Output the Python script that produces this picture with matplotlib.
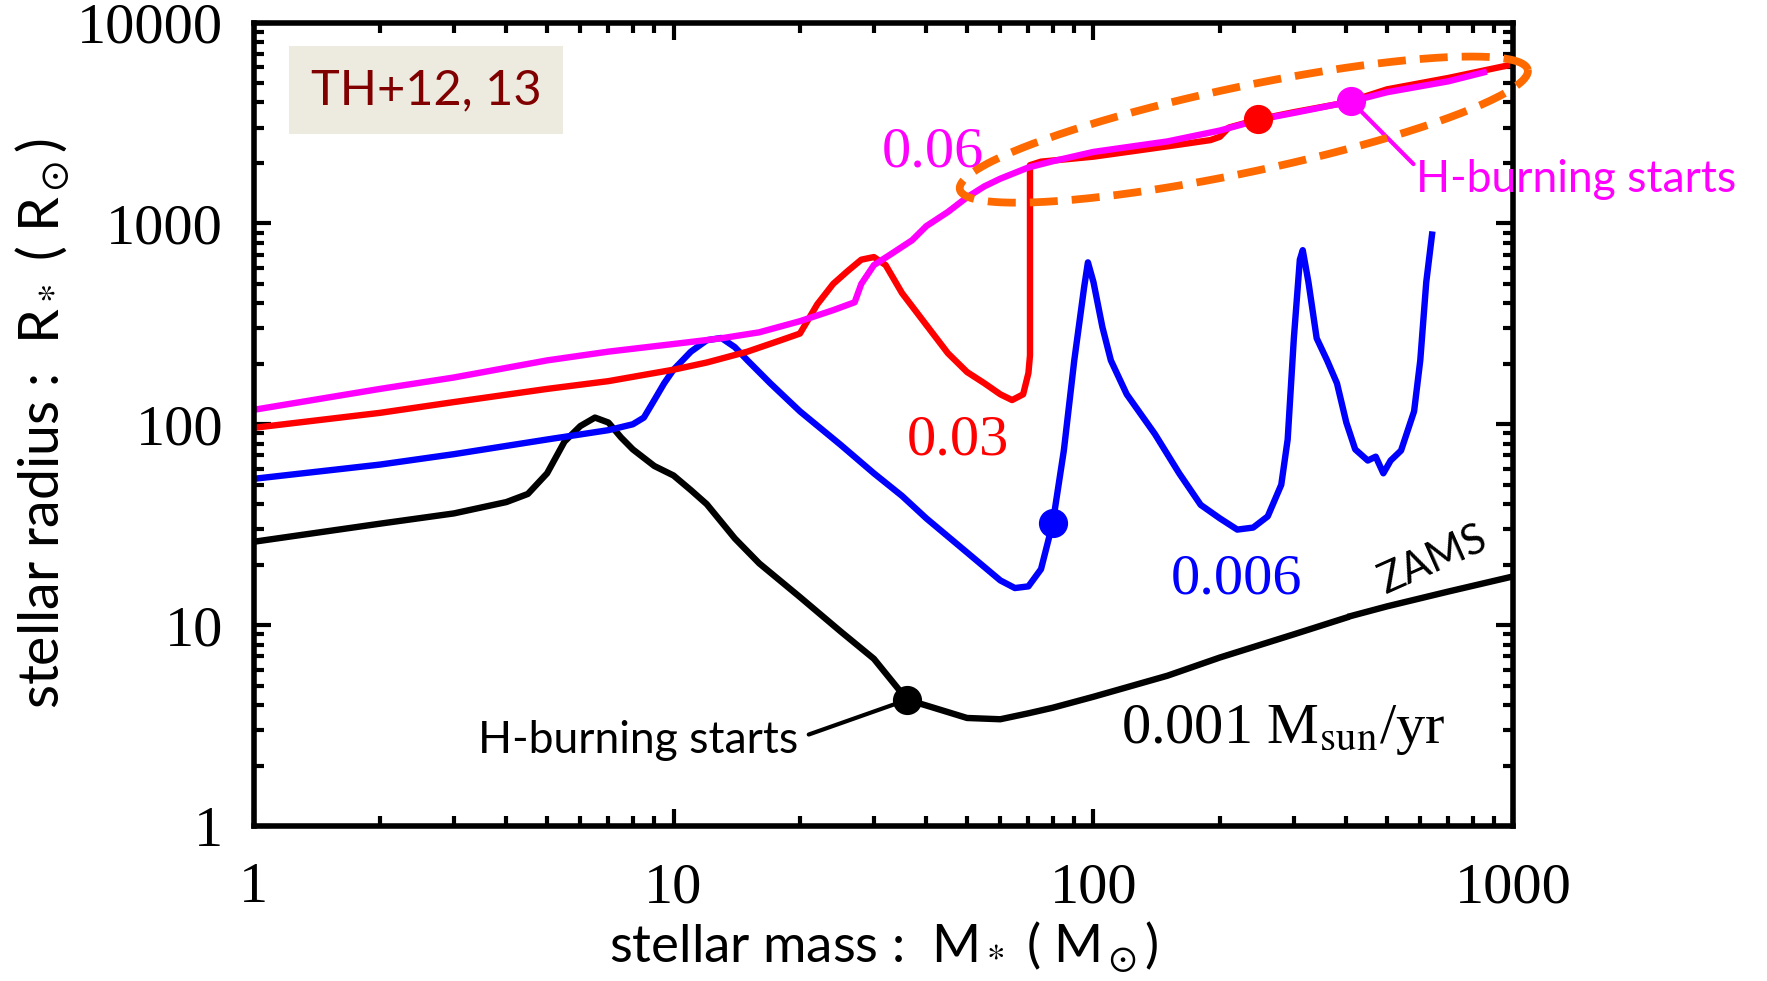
import numpy as np
import matplotlib.pyplot as plt

# accretion rate 0.001 Msun/yr (black)
mass_001 = [1, 2, 3, 4, 4.5, 5, 5.5, 6, 6.5, 7, 7.5, 8, 9, 10, 11, 12, 14, 16, 20, 25, 30, 36,
            40, 50, 60, 70, 80, 100, 150, 200, 300, 400]
rad_001 = [26, 32, 36, 41, 45, 57, 82, 98, 108, 102, 86, 75, 62, 55.6, 47, 40, 27, 20.3, 13.8, 9.3, 6.8, 4.25,
           3.98, 3.45, 3.4, 3.64, 3.88, 4.4, 5.6, 6.9, 9.0, 10.9]
# ZAMS continuation
mass_zams = [410, 500, 700, 1000]
rad_zams = [11.1, 12.4, 14.7, 17.5]

# 0.006 (blue)
mass_006 = [1, 2, 3, 5, 7, 8, 8.5, 9, 9.5, 10, 11, 12, 13, 14, 15, 17, 20, 25, 30, 35, 40, 50, 60, 65,
            70, 75, 80, 85, 90, 95, 97, 100, 105, 110, 120, 140, 160, 180, 200, 220, 240, 260, 280, 290,
            300, 310, 315, 325, 340, 360, 380, 400, 420, 450, 470, 490, 510, 540, 580, 600, 620, 640]
rad_006 = [53.5, 63, 71, 84, 93.5, 100, 108, 132, 160, 187, 230, 262, 269, 242, 208, 160, 116, 79, 57, 44,
           34, 23, 16.7, 15.3, 15.6, 19, 32.3, 74, 208, 481, 640, 510, 305, 208, 141, 89.5, 57, 39.7, 34,
           29.9, 30.6, 34.8, 50, 84, 268, 660, 736, 510, 268, 208, 160, 102, 75, 66, 69, 57, 66, 74, 116,
           208, 510, 880]

# 0.03 (red)
mass_03 = [1, 2, 3, 5, 7, 10, 12, 15, 18, 20, 22, 24, 26, 28, 30, 32, 35, 40, 45, 50, 55, 60, 64, 68,
           70, 70.6, 70.6, 75, 100, 150, 190, 200, 210, 247, 300, 400, 500, 700, 1000]
rad_03 = [96, 114, 129, 150, 164, 187, 203, 230, 262, 283, 396, 500, 580, 660, 680, 620, 450, 312, 226,
          182, 160, 141, 132, 141, 180, 220, 1950, 2030, 2150, 2420, 2600, 2700, 3000, 3295, 3580, 4000,
          4650, 5300, 6200]

# 0.06 (magenta)
mass_06 = [1, 2, 3, 5, 7, 10, 13, 16, 20, 24, 27, 28, 30, 33, 37, 40, 45, 50, 55, 60, 70, 80, 100, 150,
           200, 250, 300, 411, 500, 700, 850]
rad_06 = [118, 150, 171, 208, 230, 251, 268, 287, 326, 370, 405, 500, 620, 705, 825, 970, 1140, 1350,
          1530, 1670, 1900, 2040, 2270, 2560, 2900, 3300, 3550, 4050, 4500, 5100, 5650]

# H-burning onset
hb_mass = [36, 80, 247, 411]
hb_rad = [4.25, 32.3, 3295, 4050]
hb_colors = ['black', 'blue', 'red', 'magenta']

serif = 'Liberation Serif'
sans = 'Lato'
plt.rcParams['mathtext.fontset'] = 'stix'

fig = plt.figure(figsize=(17.67, 9.81), dpi=100)
ax = fig.add_axes([0.1435, 0.158, 0.713, 0.819])

lw = 4.6
ax.plot(mass_001, rad_001, color='black', lw=lw)
ax.plot(mass_zams, rad_zams, color='black', lw=lw)
ax.plot(mass_006, rad_006, color='blue', lw=lw)
ax.plot(mass_03, rad_03, color='red', lw=lw)
ax.plot(mass_06, rad_06, color='magenta', lw=lw)
for m, r, c in zip(hb_mass, hb_rad, hb_colors):
    ax.plot(m, r, 'o', color=c, ms=20, zorder=5)

ax.set_xscale('log')
ax.set_yscale('log')
ax.set_xlim(1, 1000)
ax.set_ylim(1, 10000)

# dashed ellipse round the converging tracks (drawn in log space)
ell_cx, ell_cy = 2.358, 3.467      # log10 centre
ell_a, ell_b = 0.691, 0.102        # semi axes in x-decade units
ell_ang = np.radians(11.9)
asp = 2.091                        # x-decade / y-decade on screen
t = np.linspace(0, 2 * np.pi, 300)
u = ell_a * np.cos(t) * np.cos(ell_ang) - ell_b * np.sin(t) * np.sin(ell_ang)
v = ell_a * np.cos(t) * np.sin(ell_ang) + ell_b * np.sin(t) * np.cos(ell_ang)
ax.plot(10 ** (ell_cx + u), 10 ** (ell_cy + v * asp), color='#FF6A00', lw=5.6,
        ls=(0, (3.6, 1.8)), clip_on=False, zorder=6)

for side in ['left', 'right', 'top', 'bottom']:
    ax.spines[side].set_linewidth(4)
ax.tick_params(which='both', direction='in', top=True, right=True)
ax.tick_params(which='major', length=12, width=3, pad=22)
ax.tick_params(which='minor', length=7, width=3)
ax.set_xticks([1, 10, 100, 1000])
ax.set_xticklabels(['1', '10', '100', '1000'])
ax.set_yticks([1, 10, 100, 1000, 10000])
ax.set_yticklabels(['1', '10', '100', '1000', '10000'])
for lab in ax.get_xticklabels() + ax.get_yticklabels():
    lab.set_fontfamily(serif)
    lab.set_fontsize(42)
ax.tick_params(axis='x', pad=26)

ax.set_xlabel(r'stellar mass :  M$_*$ ( M$_\odot$)', fontsize=38, family=sans, labelpad=4)
ax.set_ylabel(r'stellar radius :  R$_*$ ( R$_\odot$)', fontsize=40, family=sans, labelpad=4)

ax.text(0.137, 0.916, 'TH+12, 13', transform=ax.transAxes, fontsize=35, family=sans,
        color='#800000', ha='center', va='center',
        bbox=dict(boxstyle='square,pad=0.45', fc='#EDEAE0', ec='none'))

ax.text(41.5, 2264, '0.06', color='magenta', fontsize=42, family=serif, ha='center', va='center')
ax.text(47.5, 83, '0.03', color='red', fontsize=42, family=serif, ha='center', va='center')
ax.text(218.6, 16.9, '0.006', color='blue', fontsize=42, family=serif, ha='center', va='center')
ax.text(283, 3.0, r'0.001 M$_{\rm sun}$/yr', color='black', fontsize=42, family=serif,
        ha='center', va='center')
ax.text(645, 21.1, 'ZAMS', color='black', fontsize=30, family=sans, ha='center', va='center',
        rotation=24)

ax.annotate('H-burning starts', xy=(hb_mass[0], hb_rad[0]), xytext=(19.8, 2.67),
            fontsize=32, family=sans, color='black', ha='right', va='center',
            arrowprops=dict(arrowstyle='-', color='black', lw=3, shrinkA=6, shrinkB=0,
                            relpos=(1, 0.55)))
ax.annotate('H-burning starts', xy=(hb_mass[3], hb_rad[3]), xytext=(587, 1660),
            fontsize=32, family=sans, color='magenta', ha='left', va='center',
            arrowprops=dict(arrowstyle='-', color='magenta', lw=3, shrinkA=0, shrinkB=0,
                            relpos=(0, 0.8)),
            annotation_clip=False)

fig.savefig('out.png', dpi=100)
